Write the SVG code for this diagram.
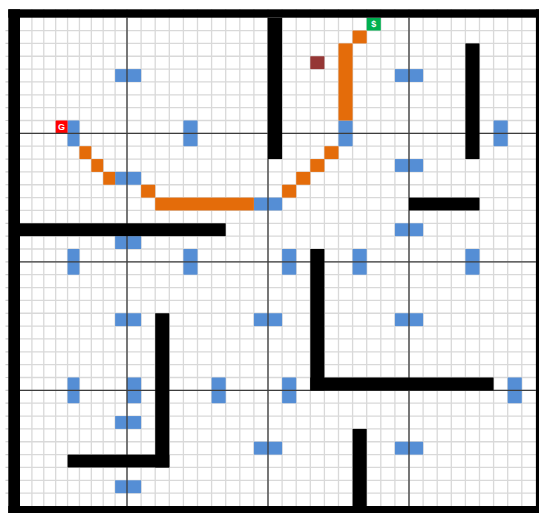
<svg xmlns="http://www.w3.org/2000/svg" width="539" height="513" viewBox="0 0 539 513">
<style>
.fine{fill:none;stroke:#d9d9d9;stroke-width:1.3}
.tick{fill:none;stroke:#d0d0d0;stroke-width:1.2}
.major{fill:none;stroke:#3c3c3c;stroke-width:1.3}
.blue{fill:#558ed5}
.path{fill:#e46c0a}
.wall{fill:#000}
.lbl{font-family:"Liberation Sans",Arial,sans-serif;font-weight:bold;font-size:9px;fill:#fff;text-anchor:middle}
</style>
<rect x="0" y="0" width="539" height="513" fill="#fff"/>
<g id="grid">
<path class="tick" d="M5.5 30.55H8.3M5.5 43.4H8.3M5.5 56.25H8.3M5.5 69.1H8.3M5.5 81.95H8.3M5.5 94.8H8.3M5.5 107.65H8.3M5.5 120.5H8.3M5.5 133.35H8.3M5.5 146.2H8.3M5.5 159.05H8.3M5.5 171.9H8.3M5.5 184.75H8.3M5.5 197.6H8.3M5.5 210.45H8.3M5.5 223.3H8.3M5.5 236.15H8.3M5.5 249H8.3M5.5 261.85H8.3M5.5 274.7H8.3M5.5 287.55H8.3M5.5 300.4H8.3M5.5 313.25H8.3M5.5 326.1H8.3M5.5 338.95H8.3M5.5 351.8H8.3M5.5 364.65H8.3M5.5 377.5H8.3M5.5 390.35H8.3M5.5 403.2H8.3M5.5 416.05H8.3M5.5 428.9H8.3M5.5 441.75H8.3M5.5 454.6H8.3M5.5 467.45H8.3M5.5 480.3H8.3M5.5 493.15H8.3"/>
<path class="fine" d="M31.89 9V513M43.78 9V513M55.67 9V513M67.56 9V513M79.44 9V513M91.33 9V513M103.22 9V513M115.11 9V513M127 9V513M141.1 9V513M155.2 9V513M169.3 9V513M183.4 9V513M197.5 9V513M211.6 9V513M225.7 9V513M239.8 9V513M253.9 9V513M268 9V513M282.1 9V513M296.2 9V513M310.3 9V513M324.4 9V513M338.5 9V513M352.6 9V513M366.7 9V513M380.8 9V513M394.9 9V513M409 9V513M423.1 9V513M437.2 9V513M451.3 9V513M465.4 9V513M479.5 9V513M493.6 9V513M507.7 9V513M521.8 9V513"/>
<path class="fine" d="M8.3 30.55H539M8.3 43.4H539M8.3 56.25H539M8.3 69.1H539M8.3 81.95H539M8.3 94.8H539M8.3 107.65H539M8.3 120.5H539M8.3 133.35H539M8.3 146.2H539M8.3 159.05H539M8.3 171.9H539M8.3 184.75H539M8.3 197.6H539M8.3 210.45H539M8.3 223.3H539M8.3 236.15H539M8.3 249H539M8.3 261.85H539M8.3 274.7H539M8.3 287.55H539M8.3 300.4H539M8.3 313.25H539M8.3 326.1H539M8.3 338.95H539M8.3 351.8H539M8.3 364.65H539M8.3 377.5H539M8.3 390.35H539M8.3 403.2H539M8.3 416.05H539M8.3 428.9H539M8.3 441.75H539M8.3 454.6H539M8.3 467.45H539M8.3 480.3H539M8.3 493.15H539"/>
</g>
<g id="blocks">
<rect class="blue" x="115.11" y="69.1" width="25.99" height="12.85"/>
<rect class="blue" x="67.56" y="120.5" width="11.88" height="25.7"/>
<rect class="blue" x="183.4" y="120.5" width="14.1" height="25.7"/>
<rect class="blue" x="338.5" y="120.5" width="14.1" height="25.7"/>
<rect class="blue" x="394.9" y="69.1" width="28.2" height="12.85"/>
<rect class="blue" x="493.6" y="120.5" width="14.1" height="25.7"/>
<rect class="blue" x="394.9" y="159.05" width="28.2" height="12.85"/>
<rect class="blue" x="115.11" y="171.9" width="25.99" height="12.85"/>
<rect class="blue" x="253.9" y="197.6" width="28.2" height="12.85"/>
<rect class="blue" x="115.11" y="236.15" width="25.99" height="12.85"/>
<rect class="blue" x="67.56" y="249" width="11.88" height="25.7"/>
<rect class="blue" x="183.4" y="249" width="14.1" height="25.7"/>
<rect class="blue" x="282.1" y="249" width="14.1" height="25.7"/>
<rect class="blue" x="352.6" y="249" width="14.1" height="25.7"/>
<rect class="blue" x="465.4" y="249" width="14.1" height="25.7"/>
<rect class="blue" x="394.9" y="223.3" width="28.2" height="12.85"/>
<rect class="blue" x="115.11" y="313.25" width="25.99" height="12.85"/>
<rect class="blue" x="253.9" y="313.25" width="28.2" height="12.85"/>
<rect class="blue" x="394.9" y="313.25" width="28.2" height="12.85"/>
<rect class="blue" x="67.56" y="377.5" width="11.88" height="25.7"/>
<rect class="blue" x="127" y="377.5" width="14.1" height="25.7"/>
<rect class="blue" x="211.6" y="377.5" width="14.1" height="25.7"/>
<rect class="blue" x="282.1" y="377.5" width="14.1" height="25.7"/>
<rect class="blue" x="507.7" y="377.5" width="14.1" height="25.7"/>
<rect class="blue" x="115.11" y="416.05" width="25.99" height="12.85"/>
<rect class="blue" x="253.9" y="441.75" width="28.2" height="12.85"/>
<rect class="blue" x="394.9" y="441.75" width="28.2" height="12.85"/>
<rect class="blue" x="115.11" y="480.3" width="25.99" height="12.85"/>
</g>
<g id="route">
<rect class="path" x="79.44" y="146.2" width="11.89" height="12.85"/>
<rect class="path" x="91.33" y="159.05" width="11.89" height="12.85"/>
<rect class="path" x="103.22" y="171.9" width="11.89" height="12.85"/>
<rect class="path" x="141.1" y="184.75" width="14.1" height="12.85"/>
<rect class="path" x="155.2" y="197.6" width="98.7" height="12.85"/>
<rect class="path" x="282.1" y="184.75" width="14.1" height="12.85"/>
<rect class="path" x="296.2" y="171.9" width="14.1" height="12.85"/>
<rect class="path" x="310.3" y="159.05" width="14.1" height="12.85"/>
<rect class="path" x="324.4" y="146.2" width="14.1" height="12.85"/>
<rect class="path" x="338.5" y="43.4" width="14.1" height="77.1"/>
<rect class="path" x="352.6" y="30.55" width="14.1" height="12.85"/>
</g>
<g id="marker">
<rect x="310.3" y="56.25" width="14.1" height="12.85" fill="#953735"/>
</g>
<g id="start">
<rect x="366.7" y="17.7" width="14.1" height="12.85" fill="#00b050"/>
<text class="lbl" x="373.75" y="27.4">$</text>
</g>
<g id="goal">
<rect x="55.67" y="120.5" width="11.89" height="12.85" fill="#ff0000"/>
<text class="lbl" x="61.6" y="130.2">G</text>
</g>
<g id="majors">
<path class="major" d="M127 17.7V506M268 17.7V506M409 17.7V506M20 133.35H535.9M20 261.85H535.9M20 390.35H535.9"/>
</g>
<g id="walls">
<rect class="wall" x="8.3" y="9.3" width="530.7" height="8.4"/>
<rect class="wall" x="8.3" y="9.3" width="11.7" height="503.7"/>
<rect class="wall" x="535.9" y="9.3" width="3.1" height="503.7"/>
<rect class="wall" x="8.3" y="506" width="530.7" height="7"/>
<rect class="wall" x="268" y="17.7" width="14.1" height="141.35"/>
<rect class="wall" x="465.4" y="43.4" width="14.1" height="115.65"/>
<rect class="wall" x="409" y="197.6" width="70.5" height="12.85"/>
<rect class="wall" x="20" y="223.3" width="205.7" height="12.85"/>
<rect class="wall" x="310.3" y="249" width="14.1" height="141.35"/>
<rect class="wall" x="310.3" y="377.5" width="183.3" height="12.85"/>
<rect class="wall" x="352.6" y="428.9" width="14.1" height="77.1"/>
<rect class="wall" x="155.2" y="313.25" width="14.1" height="154.2"/>
<rect class="wall" x="67.56" y="454.6" width="101.74" height="12.85"/>
</g>
</svg>
